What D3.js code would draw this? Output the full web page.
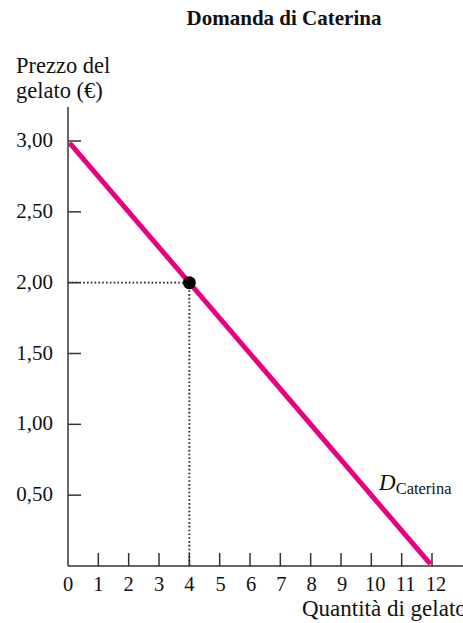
<!DOCTYPE html>
<html><head><meta charset="utf-8">
<script src="https://cdn.jsdelivr.net/npm/d3@7"></script>
<style>body{margin:0;background:#fff}svg{display:block}text{font-family:"Liberation Serif","Times New Roman",serif;fill:#111}</style>
</head><body>
<script>
const title = "Domanda di Caterina";
const xTicks = [0,1,2,3,4,5,6,7,8,9,10,11,12];
const yTicks = [0.5,1.0,1.5,2.0,2.5,3.0];
const demandQ = [0.1, 11.9];
const demandP = [2.975, 0.025];
const pointQ = [4];
const pointP = [2];

const W = 463, H = 623;
const svg = d3.select("body").append("svg").attr("width", W).attr("height", H);
const x = d3.scaleLinear().domain([0,12]).range([68, 432]);
const y = d3.scaleLinear().domain([0,3]).range([566, 141]);

svg.append("text").attr("x", 284).attr("y", 25).attr("text-anchor","middle")
  .attr("font-weight","bold").attr("font-size", 21).text(title);

svg.append("text").attr("x", 16).attr("y", 73).attr("font-size", 22.5).text("Prezzo del");
svg.append("text").attr("x", 16).attr("y", 98).attr("font-size", 22.5).text("gelato (€)");

// dotted guides
svg.append("line").attr("x1", x(0)).attr("x2", x(pointQ[0])).attr("y1", y(pointP[0])).attr("y2", y(pointP[0]))
  .attr("stroke","#222").attr("stroke-width",1.8).attr("stroke-dasharray","1.6,2.2");
svg.append("line").attr("x1", x(pointQ[0])).attr("x2", x(pointQ[0])).attr("y1", y(pointP[0])).attr("y2", y(0))
  .attr("stroke","#222").attr("stroke-width",1.8).attr("stroke-dasharray","1.6,2.2");

// axes
const ax = svg.append("g").attr("stroke","#333").attr("stroke-width",1.5);
ax.append("line").attr("x1", x(0)).attr("x2", x(0)).attr("y1", 107).attr("y2", y(0));
ax.append("line").attr("x1", x(0)).attr("x2", 463).attr("y1", y(0)).attr("y2", y(0));
ax.selectAll(".xt").data(xTicks.filter(d=>d>0)).enter().append("line")
  .attr("x1", d=>x(d)).attr("x2", d=>x(d)).attr("y1", y(0)).attr("y2", y(0)-13);
ax.selectAll(".yt").data(yTicks).enter().append("line")
  .attr("x1", x(0)).attr("x2", x(0)+13).attr("y1", d=>y(d)).attr("y2", d=>y(d));

svg.selectAll(".xl").data(xTicks).enter().append("text")
  .attr("x", d=>x(d)).attr("dx", d=>d>=10?4:(d>=5?1:0)).attr("y", 591).attr("text-anchor","middle")
  .attr("font-size", 20.5).text(d=>d);
svg.selectAll(".yl").data(yTicks).enter().append("text")
  .attr("x", 53).attr("y", d=>y(d)+6).attr("text-anchor","end").attr("font-size", 21)
  .text(d=>d.toFixed(2).replace(".", ","));

svg.append("text").attr("x", 302).attr("y", 616).attr("font-size", 23).text("Quantità di gelato");

// demand line
const pts = demandQ.map((q,i)=>[x(q), y(demandP[i])]);
svg.append("path").attr("d", d3.line()(pts)).attr("stroke","#e8007f").attr("stroke-width",5)
  .attr("fill","none").attr("stroke-linecap","round");

svg.selectAll(".pt").data(pointQ).enter().append("circle")
  .attr("cx", (d)=>x(d)).attr("cy", (d,i)=>y(pointP[i])).attr("r", 6.5).attr("fill","#000");

const lab = svg.append("text").attr("x", 379).attr("y", 490);
lab.append("tspan").attr("font-style","italic").attr("font-size", 23).text("D");
lab.append("tspan").attr("font-size", 16.5).attr("dy", 4).text("Caterina");
</script>
</body></html>
